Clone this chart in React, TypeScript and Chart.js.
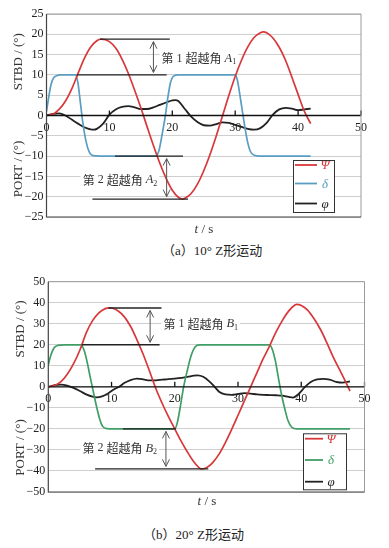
import React, { useEffect, useRef } from 'react';
import { Chart, registerables } from 'chart.js';
Chart.register(...registerables);

// ---------- (a) 10° zigzag ----------
const aPsiT = [0, 1, 2, 3, 4, 5, 6, 7, 8, 8.7, 10, 11, 12, 13, 14, 15, 16, 17, 18, 19, 20, 21, 21.6, 22, 23, 24, 25, 26, 27, 28, 29, 30, 31, 32, 33, 34, 34.5, 35, 36, 37, 38, 39, 40, 41, 42];
const aPsiV = [0, 0.3, 1.5, 3.5, 6.5, 10.3, 14, 16.8, 18.4, 18.8, 18.2, 16.6, 13.9, 10.4, 6.3, 1.9, -2.8, -7.4, -11.7, -15.4, -18.4, -20.2, -20.6, -20.4, -19.2, -16.9, -13.6, -9.6, -5, 0, 5, 9.6, 13.6, 16.9, 19.2, 20.4, 20.6, 20.4, 19.1, 16.8, 13.6, 9.5, 5.2, 1.0, -2];
const aDeltaT = [0, 0.3, 0.7, 1.1, 1.6, 2.3, 4.6, 5.0, 5.4, 5.8, 6.3, 6.8, 7.4, 8.5, 17.4, 17.9, 18.4, 18.9, 19.3, 19.7, 20.2, 21, 30.0, 30.3, 30.6, 31.0, 31.4, 31.9, 32.4, 33.0, 34, 42];
const aDeltaV = [1, 4, 7.5, 9.2, 9.8, 10, 10, 8, 3, -2, -6.5, -9, -9.9, -10, -10, -8.5, -4.5, 0, 4.5, 8, 9.7, 10, 10, 9, 6.5, 2.5, -1.5, -6, -8.8, -9.8, -10, -10];
const aPhiT = [0, 1, 2, 3, 4, 5, 6, 7, 7.5, 8, 9, 10, 11, 12, 13, 14, 15, 16, 17, 18, 19, 20, 20.5, 21, 22, 23, 24, 25, 26, 27, 28, 29, 30, 31, 32, 33, 34, 35, 36, 37, 38, 39, 40, 41, 42];
const aPhiV = [0, 0.4, 0.5, 0, -1, -2, -2.9, -3.4, -3.5, -3.3, -2, 0.2, 1.5, 2.1, 2.3, 2.0, 1.6, 1.6, 2.0, 2.6, 3.2, 3.7, 3.8, 3.5, 1.6, -0.3, -1.6, -2.4, -2.5, -2.1, -1.7, -1.8, -2.3, -2.8, -3.3, -3.5, -3.1, -1.8, 0.2, 1.5, 1.9, 1.7, 1.3, 1.5, 1.7];

// ---------- (b) 20° zigzag ----------
const bPsiT = [0, 1, 2, 3, 4, 5, 6, 7, 8, 9, 9.6, 10, 11, 12, 13, 14, 15, 16, 17, 18, 19, 20, 21, 22, 23, 24, 24.4, 25, 26, 27, 28, 29, 30, 31, 32, 33, 34, 35, 36, 37, 38, 39, 39.3, 40, 41, 42, 43, 44, 45, 46, 47, 47.7];
const bPsiV = [0, 0.6, 2.5, 6, 11, 17.5, 25.7, 31.5, 35.2, 37.2, 37.6, 37.5, 36.2, 33.4, 28.8, 22.5, 15.5, 7.5, -0.8, -7.8, -14.2, -20, -25.8, -31, -35.6, -38.8, -39, -38.5, -36, -32, -26.5, -20.2, -13.5, -6.7, 0, 6.8, 13.5, 19.5, 26, 31.5, 36, 38.9, 39.2, 38.7, 36.5, 32.5, 27.5, 21.3, 14.5, 8.5, 2.5, -2];
const bDeltaT = [0, 0.4, 0.9, 1.5, 2.5, 5.2, 5.7, 6.2, 6.6, 7.1, 7.6, 8.1, 8.6, 9.3, 10.3, 20, 20.4, 20.9, 21.4, 22, 22.6, 23.2, 23.9, 35, 35.4, 35.9, 36.4, 36.9, 37.4, 37.9, 38.5, 39.3, 47.7];
const bDeltaV = [10.5, 15, 18.5, 19.7, 20, 20, 17, 11, 5, -2, -9, -15, -18.8, -19.9, -20, -20, -17, -9, 0, 8, 15, 19, 20, 20, 18, 12.5, 4, -4, -10.5, -16, -19.2, -20, -20];
const bPhiT = [0, 1, 2, 3, 4, 5, 6, 7, 7.6, 8.5, 9.5, 10.5, 11.2, 12, 13, 14, 15, 16, 17, 18, 19, 20, 21, 22, 23, 23.6, 24.5, 25.5, 26.3, 27, 28, 29, 30, 31, 32, 33, 34, 35, 36, 37, 38, 38.7, 39.5, 40.6, 41.5, 42.5, 43.5, 44.5, 45.5, 46.5, 47.7];
const bPhiV = [0, 0.8, 1.1, 0.6, -0.5, -2, -3.6, -4.7, -5, -4.5, -3, -1, 0, 1.8, 3.2, 3.9, 3.6, 3.1, 3.1, 3.4, 3.7, 3.9, 4.3, 4.7, 5.3, 5.5, 4.8, 2.5, 0, -2.3, -3.6, -3.8, -3.4, -3.0, -3.2, -3.6, -3.8, -3.9, -4.0, -4.2, -4.8, -5.1, -3.6, 0, 2.3, 3.5, 3.8, 3.4, 2.4, 2.0, 2.6];

// annotations (data coordinates)
const aOverLines = [{ y: 18.8, x1: 8.5, x2: 19.6 }, { y: 10, x1: 4.8, x2: 19.1 }, { y: -10, x1: 10.9, x2: 21.7 }, { y: -20.6, x1: 7.3, x2: 22.5 }];
const aArrows = [{ x: 17.0, y1: 18.8, y2: 10 }, { x: 19.1, y1: -10, y2: -20.6 }];
const aLabels = [{ x: 18.3, y: 14.0, num: '1', sym: 'A', sub: '1' }, { x: 5.75, y: -15.9, num: '2', sym: 'A', sub: '2' }];
const bOverLines = [{ y: 37.5, x1: 9.5, x2: 17.9 }, { y: 20, x1: 5.3, x2: 17.6 }, { y: -20, x1: 11.8, x2: 20.2 }, { y: -39, x1: 7.4, x2: 25.3 }];
const bArrows = [{ x: 16.1, y1: 37.5, y2: 20 }, { x: 18.6, y1: -20, y2: -39 }];
const bLabels = [{ x: 18.2, y: 29.8, num: '1', sym: 'B', sub: '1' }, { x: 5.4, y: -29.2, num: '2', sym: 'B', sub: '2' }];

const SERIF = '"Liberation Serif", "DejaVu Serif", serif';
const CJK = '"Noto Sans CJK SC", sans-serif';
const RED = '#d8383a';
const BLUE = '#5a9dc2';
const GREEN = '#3f9d66';
const DARK = '#222222';

type Lbl = { x: number; y: number; num: string; sym: string; sub: string };
type Panel = {
  yMax: number; yStep: number; leftW: number; pad: { top: number; right: number; bottom: number };
  lines: { y: number; x1: number; x2: number }[];
  arrows: { x: number; y1: number; y2: number }[];
  labels: Lbl[];
  titleX: number; stbdY: number; portY: number; tsX: number; tsY: number;
  legend: { x: number; y: number; w: number; h: number; rows: number[]; lx1: number; lx2: number; tx: number };
  colors: string[];
};

function pts(t: number[], v: number[]) {
  return t.map((x, i) => ({ x, y: v[i] }));
}

function segs(l: Lbl) {
  return [
    { t: '第', f: `12px ${CJK}`, dy: 0 },
    { t: ' ' + l.num + ' ', f: `12px ${SERIF}`, dy: 0 },
    { t: '超越角', f: `12px ${CJK}`, dy: 0 },
    { t: ' ', f: `12px ${SERIF}`, dy: 0 },
    { t: l.sym, f: `italic 12.5px ${SERIF}`, dy: 0 },
    { t: l.sub, f: `8px ${SERIF}`, dy: 3.5 },
  ];
}

function makePlugin(cfg: Panel) {
  return {
    id: 'overlay',
    beforeDatasetsDraw(chart: any) {
      const { ctx } = chart;
      const xs = chart.scales.x, ys = chart.scales.y;
      ctx.save();
      cfg.labels.forEach((l) => {
        let w = 0;
        segs(l).forEach((s) => { ctx.font = s.f; w += ctx.measureText(s.t).width; });
        const px = xs.getPixelForValue(l.x), py = ys.getPixelForValue(l.y);
        ctx.fillStyle = '#ffffff';
        ctx.fillRect(px - 2, py - 8, w + 4, 16);
      });
      ctx.restore();
    },
    afterDatasetsDraw(chart: any) {
      const { ctx, chartArea: ca } = chart;
      const xs = chart.scales.x, ys = chart.scales.y;
      ctx.save();
      // zero axis line
      const y0 = ys.getPixelForValue(0);
      ctx.strokeStyle = '#111';
      ctx.lineWidth = 1.3;
      ctx.beginPath();
      ctx.moveTo(ca.left, y0);
      ctx.lineTo(ca.right, y0);
      ctx.stroke();
      // upward ticks
      xs.ticks.forEach((t: any) => {
        if (t.value === 0) return;
        const px = xs.getPixelForValue(t.value);
        ctx.beginPath();
        ctx.moveTo(px, y0);
        ctx.lineTo(px, y0 - 5);
        ctx.stroke();
      });
      // frame
      ctx.lineWidth = 1;
      ctx.strokeStyle = '#9a9a9a';
      ctx.beginPath();
      ctx.moveTo(ca.left, ca.top);
      ctx.lineTo(ca.right, ca.top);
      ctx.lineTo(ca.right, ca.bottom);
      ctx.stroke();
      ctx.strokeStyle = '#444';
      ctx.lineWidth = 1.2;
      ctx.beginPath();
      ctx.moveTo(ca.right, ca.bottom);
      ctx.lineTo(ca.left, ca.bottom);
      ctx.lineTo(ca.left, ca.top);
      ctx.stroke();
      // overshoot lines
      ctx.strokeStyle = '#222';
      ctx.lineWidth = 1.4;
      cfg.lines.forEach((l) => {
        const py = ys.getPixelForValue(l.y);
        ctx.beginPath();
        ctx.moveTo(xs.getPixelForValue(l.x1), py);
        ctx.lineTo(xs.getPixelForValue(l.x2), py);
        ctx.stroke();
      });
      // arrows
      ctx.strokeStyle = '#555';
      ctx.lineWidth = 1;
      cfg.arrows.forEach((a) => {
        const px = xs.getPixelForValue(a.x);
        const pa = ys.getPixelForValue(a.y1) + 2.5;
        const pb = ys.getPixelForValue(a.y2) - 2.5;
        ctx.beginPath();
        ctx.moveTo(px, pa);
        ctx.lineTo(px, pb);
        ctx.moveTo(px - 3.5, pa + 7);
        ctx.lineTo(px, pa);
        ctx.lineTo(px + 3.5, pa + 7);
        ctx.moveTo(px - 3.5, pb - 7);
        ctx.lineTo(px, pb);
        ctx.lineTo(px + 3.5, pb - 7);
        ctx.stroke();
      });
      // labels
      ctx.fillStyle = '#333';
      ctx.textBaseline = 'middle';
      ctx.textAlign = 'left';
      cfg.labels.forEach((l) => {
        let px = xs.getPixelForValue(l.x);
        const py = ys.getPixelForValue(l.y);
        segs(l).forEach((s) => {
          ctx.font = s.f;
          ctx.fillText(s.t, px, py + s.dy);
          px += ctx.measureText(s.t).width;
        });
      });
      ctx.restore();
    },
    afterDraw(chart: any) {
      const { ctx } = chart;
      ctx.save();
      ctx.fillStyle = '#333';
      ctx.textBaseline = 'middle';
      ctx.textAlign = 'center';
      ctx.font = `13px ${SERIF}`;
      [[cfg.stbdY, 'STBD / (°)'], [cfg.portY, 'PORT / (°)']].forEach(([y, s]) => {
        ctx.save();
        ctx.translate(cfg.titleX, y as number);
        ctx.rotate(-Math.PI / 2);
        ctx.fillText(s as string, 0, 0);
        ctx.restore();
      });
      // t / s
      ctx.textAlign = 'left';
      ctx.font = `italic 13px ${SERIF}`;
      const w1 = ctx.measureText('t').width;
      ctx.font = `13px ${SERIF}`;
      const w2 = ctx.measureText(' / s').width;
      let x = cfg.tsX - (w1 + w2) / 2;
      ctx.font = `italic 13px ${SERIF}`;
      ctx.fillText('t', x, cfg.tsY);
      x += w1;
      ctx.font = `13px ${SERIF}`;
      ctx.fillText(' / s', x, cfg.tsY);
      // legend
      const lg = cfg.legend;
      ctx.fillStyle = '#fff';
      ctx.fillRect(lg.x, lg.y, lg.w, lg.h);
      ctx.strokeStyle = '#333';
      ctx.lineWidth = 1;
      ctx.strokeRect(lg.x + 0.5, lg.y + 0.5, lg.w, lg.h);
      const syms = ['Ψ', 'δ', 'φ'];
      lg.rows.forEach((r, i) => {
        const y = lg.y + r;
        ctx.strokeStyle = cfg.colors[i];
        ctx.lineWidth = 1.8;
        ctx.beginPath();
        ctx.moveTo(lg.lx1, y);
        ctx.lineTo(lg.lx2, y);
        ctx.stroke();
        ctx.fillStyle = cfg.colors[i];
        ctx.textAlign = 'center';
        ctx.font = `italic 13px ${SERIF}`;
        ctx.fillText(syms[i], lg.tx, y + 1);
      });
      ctx.restore();
    },
  };
}

function fmt(v: number) {
  return v < 0 ? '−' + Math.abs(v) : String(v);
}

function buildChart(canvas: HTMLCanvasElement, cfg: Panel, sets: { x: number; y: number }[][]) {
  const names = ['Ψ', 'δ', 'φ'];
  return new Chart(canvas, {
    type: 'line',
    data: {
      datasets: sets.map((d, i) => ({
        label: names[i],
        data: d,
        borderColor: cfg.colors[i],
        borderWidth: i === 2 ? 1.8 : 1.7,
        pointRadius: 0,
        fill: false,
        cubicInterpolationMode: 'monotone' as const,
        order: i === 0 ? 0 : i,
      })),
    },
    options: {
      responsive: false,
      animation: false,
      devicePixelRatio: 1,
      layout: { padding: { left: 0, top: cfg.pad.top, right: cfg.pad.right, bottom: cfg.pad.bottom } },
      plugins: { legend: { display: false }, tooltip: { enabled: false } },
      scales: {
        x: {
          type: 'linear',
          position: { y: 0 } as any,
          min: 0,
          max: 50,
          grid: { display: false, drawTicks: false },
          border: { display: false },
          ticks: { stepSize: 10, padding: 5, color: '#222', maxRotation: 0, autoSkip: false, font: { family: SERIF, size: 12 } },
          afterFit: (s: any) => { s.paddingLeft = 0; s.paddingRight = 0; },
        },
        y: {
          type: 'linear',
          min: -cfg.yMax,
          max: cfg.yMax,
          grid: { color: '#cfcfcf', lineWidth: 1, drawTicks: false },
          border: { display: false },
          ticks: { stepSize: cfg.yStep, padding: 3, color: '#222', font: { family: SERIF, size: 12 }, callback: (v: any) => fmt(Number(v)) },
          afterFit: (s: any) => { s.width = cfg.leftW; s.paddingTop = 0; s.paddingBottom = 0; },
        },
      },
    } as any,
    plugins: [makePlugin(cfg)],
  });
}

const panelA: Panel = {
  yMax: 25, yStep: 5, leftW: 46.5, pad: { top: 14, right: 28, bottom: 23 },
  lines: aOverLines, arrows: aArrows, labels: aLabels,
  titleX: 19, stbdY: 61.7, portY: 169, tsX: 204, tsY: 230,
  legend: { x: 293, y: 160, w: 41, h: 52, rows: [5, 23.5, 43.5], lx1: 295, lx2: 317, tx: 325 },
  colors: [RED, BLUE, DARK],
};
const panelB: Panel = {
  yMax: 50, yStep: 10, leftW: 48.3, pad: { top: 19.7, right: 24.5, bottom: 20 },
  lines: bOverLines, arrows: bArrows, labels: bLabels,
  titleX: 20.5, stbdY: 67, portY: 185.5, tsX: 207, tsY: 240,
  legend: { x: 303, y: 171.3, w: 43, h: 56, rows: [5.4, 26.7, 48.4], lx1: 305, lx2: 323, tx: 331 },
  colors: [RED, GREEN, DARK],
};

export default function App() {
  const refA = useRef<HTMLCanvasElement>(null);
  const refB = useRef<HTMLCanvasElement>(null);
  useEffect(() => {
    const ca = buildChart(refA.current!, panelA, [pts(aPsiT, aPsiV), pts(aDeltaT, aDeltaV), pts(aPhiT, aPhiV)]);
    const cb = buildChart(refB.current!, panelB, [pts(bPsiT, bPsiV), pts(bDeltaT, bDeltaV), pts(bPhiT, bPhiV)]);
    return () => { ca.destroy(); cb.destroy(); };
  }, []);
  const cap: React.CSSProperties = {
    position: 'absolute', fontFamily: `${SERIF.split(',')[0]}, ${CJK}`, fontSize: 13, lineHeight: '16px', color: '#222', whiteSpace: 'nowrap',
  };
  return (
    <div style={{ position: 'absolute', left: 0, top: 0, width: 389, height: 548, background: '#fff', overflow: 'hidden' }}>
      <canvas ref={refA} width={389} height={240} style={{ position: 'absolute', left: 0, top: 0, width: 389, height: 240 }} />
      <div style={{ ...cap, left: 162, top: 243 }}>（a）10° Z形运动</div>
      <canvas ref={refB} width={389} height={250} style={{ position: 'absolute', left: 0, top: 262, width: 389, height: 250 }} />
      <div style={{ ...cap, left: 143, top: 527 }}>（b）20° Z形运动</div>
    </div>
  );
}
